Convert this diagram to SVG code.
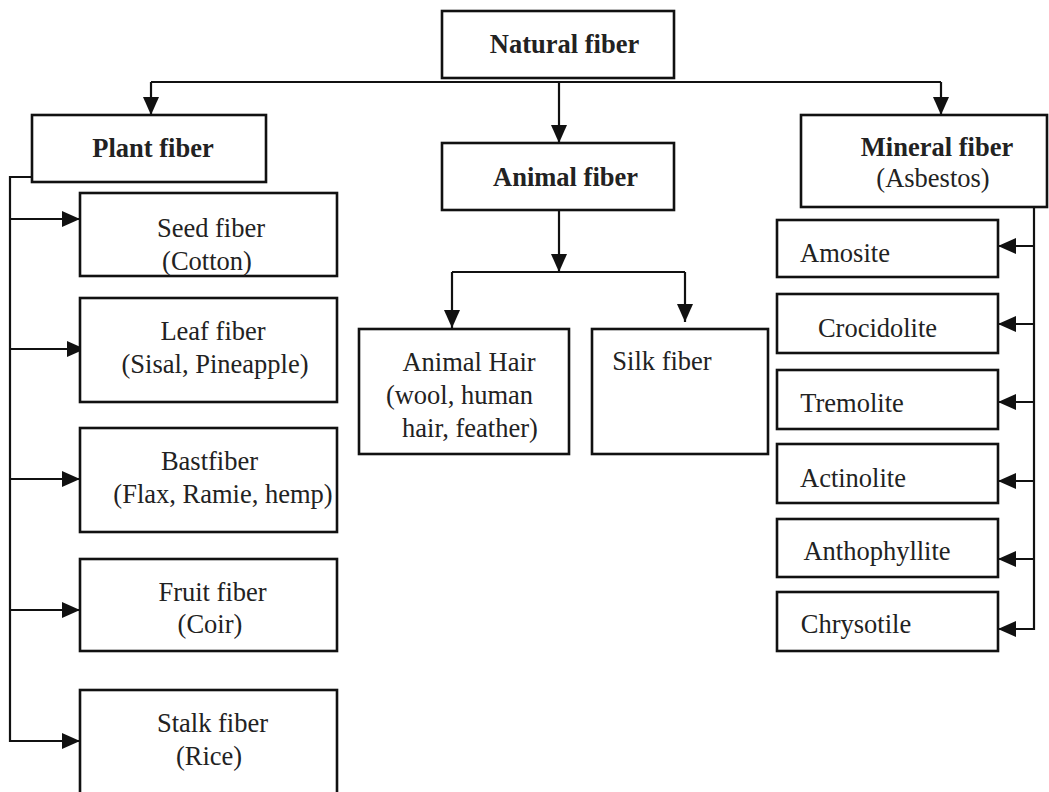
<svg xmlns="http://www.w3.org/2000/svg" width="1049" height="792" viewBox="0 0 1049 792">
<style>
.box{fill:#fff;stroke:#111;stroke-width:2.6}
.con{fill:none;stroke:#111;stroke-width:2.2}
text{font-family:"Liberation Serif","Times New Roman",serif;font-size:26.5px;fill:#222;text-anchor:middle}
.b{font-weight:bold}
</style>
<defs>
<marker id="ah" viewBox="0 0 18 16" refX="18" refY="8" markerWidth="18" markerHeight="16" markerUnits="userSpaceOnUse" orient="auto">
<path d="M0,0 L18,8 L0,16 z" fill="#111"/>
</marker>
</defs>
<rect width="1049" height="792" fill="#fff"/>
<g id="connectors">
<path class="con" d="M151,82 H941"/>
<path class="con" d="M151,82 V115" marker-end="url(#ah)"/>
<path class="con" d="M559,82 V143" marker-end="url(#ah)"/>
<path class="con" d="M941,82 V115" marker-end="url(#ah)"/>
<path class="con" d="M559,210 V272" marker-end="url(#ah)"/>
<path class="con" d="M452,272 H685"/>
<path class="con" d="M452,272 V328" marker-end="url(#ah)"/>
<path class="con" d="M685,272 V322" marker-end="url(#ah)"/>
<path class="con" d="M32,177 H10 V741 H80" marker-end="url(#ah)"/>
<path class="con" d="M10,219 H80" marker-end="url(#ah)"/>
<path class="con" d="M10,349 H85" marker-end="url(#ah)"/>
<path class="con" d="M10,479 H80" marker-end="url(#ah)"/>
<path class="con" d="M10,610 H80" marker-end="url(#ah)"/>
<path class="con" d="M1034,208 V629 H998" marker-end="url(#ah)"/>
<path class="con" d="M1034,246 H998" marker-end="url(#ah)"/>
<path class="con" d="M1034,324 H998" marker-end="url(#ah)"/>
<path class="con" d="M1034,402 H998" marker-end="url(#ah)"/>
<path class="con" d="M1034,481 H998" marker-end="url(#ah)"/>
<path class="con" d="M1034,559 H998" marker-end="url(#ah)"/>
</g>
<g id="natural"><rect class="box" x="442" y="11" width="232" height="67"/><text class="b" x="564.5" y="53">Natural fiber</text></g>
<g id="plant"><rect class="box" x="32" y="115" width="234" height="67"/><text class="b" x="153" y="157">Plant fiber</text></g>
<g id="animal"><rect class="box" x="442" y="143" width="232" height="67"/><text class="b" x="565.5" y="186">Animal fiber</text></g>
<g id="mineral"><rect class="box" x="801" y="115" width="246" height="92"/><text class="b" x="937" y="156">Mineral fiber</text><text x="933" y="187">(Asbestos)</text></g>
<g id="seed"><rect class="box" x="80" y="193" width="257" height="83"/><text x="211" y="237">Seed fiber</text><text x="207" y="270">(Cotton)</text></g>
<g id="leaf"><rect class="box" x="80" y="298" width="257" height="104"/><text x="213" y="340">Leaf fiber</text><text x="215" y="373">(Sisal, Pineapple)</text></g>
<g id="bast"><rect class="box" x="80" y="428" width="257" height="104"/><text x="209.5" y="470">Bastfiber</text><text x="223" y="503">(Flax, Ramie, hemp)</text></g>
<g id="fruit"><rect class="box" x="80" y="559" width="257" height="92"/><text x="212.5" y="601">Fruit fiber</text><text x="210" y="633">(Coir)</text></g>
<g id="stalk"><rect class="box" x="80" y="690" width="257" height="115"/><text x="212.5" y="732">Stalk fiber</text><text x="209" y="765">(Rice)</text></g>
<g id="hair"><rect class="box" x="359" y="329" width="210" height="125"/><text x="469" y="371">Animal Hair</text><text x="459.5" y="404">(wool, human</text><text x="470" y="437">hair, feather)</text></g>
<g id="silk"><rect class="box" x="592" y="329" width="176" height="125"/><text x="662" y="370">Silk fiber</text></g>
<g id="amosite"><rect class="box" x="777" y="220" width="221" height="57"/><text x="845" y="262">Amosite</text></g>
<g id="crocidolite"><rect class="box" x="777" y="294" width="221" height="59"/><text x="877.5" y="337">Crocidolite</text></g>
<g id="tremolite"><rect class="box" x="777" y="370" width="221" height="59"/><text x="852" y="412">Tremolite</text></g>
<g id="actinolite"><rect class="box" x="777" y="444" width="221" height="59"/><text x="853" y="487">Actinolite</text></g>
<g id="anthophyllite"><rect class="box" x="777" y="519" width="221" height="58"/><text x="877" y="560">Anthophyllite</text></g>
<g id="chrysotile"><rect class="box" x="777" y="592" width="221" height="59"/><text x="856" y="633">Chrysotile</text></g>
</svg>
